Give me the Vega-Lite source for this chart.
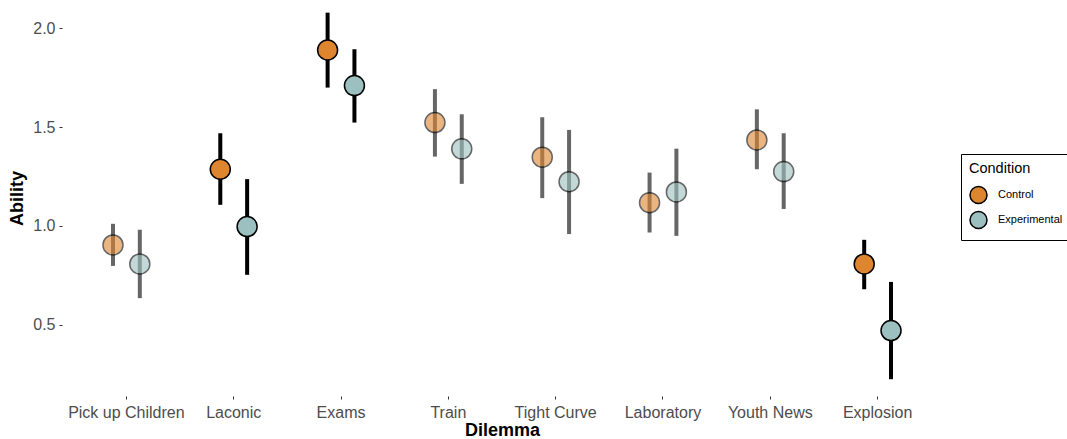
{
  "$schema": "https://vega.github.io/schema/vega-lite/v6.json",
  "width": 880,
  "height": 396,
  "autosize": {"type": "none"},
  "padding": {"left": 62, "top": 0, "right": 125, "bottom": 43},
  "background": "white",
  "config": {"view": {"stroke": null}, "font": "Liberation Sans"},
  "data": {
    "values": [
      {"Dilemma": "Pick up Children", "Condition": "Control", "Ability": 0.904, "Lower": 0.798, "Upper": 1.011},
      {"Dilemma": "Pick up Children", "Condition": "Experimental", "Ability": 0.808, "Lower": 0.635, "Upper": 0.981},
      {"Dilemma": "Laconic", "Condition": "Control", "Ability": 1.287, "Lower": 1.107, "Upper": 1.469},
      {"Dilemma": "Laconic", "Condition": "Experimental", "Ability": 0.997, "Lower": 0.753, "Upper": 1.237},
      {"Dilemma": "Exams", "Condition": "Control", "Ability": 1.890, "Lower": 1.700, "Upper": 2.079},
      {"Dilemma": "Exams", "Condition": "Experimental", "Ability": 1.710, "Lower": 1.523, "Upper": 1.894},
      {"Dilemma": "Train", "Condition": "Control", "Ability": 1.523, "Lower": 1.351, "Upper": 1.692},
      {"Dilemma": "Train", "Condition": "Experimental", "Ability": 1.390, "Lower": 1.213, "Upper": 1.565},
      {"Dilemma": "Tight Curve", "Condition": "Control", "Ability": 1.348, "Lower": 1.141, "Upper": 1.550},
      {"Dilemma": "Tight Curve", "Condition": "Experimental", "Ability": 1.224, "Lower": 0.959, "Upper": 1.486},
      {"Dilemma": "Laboratory", "Condition": "Control", "Ability": 1.118, "Lower": 0.967, "Upper": 1.270},
      {"Dilemma": "Laboratory", "Condition": "Experimental", "Ability": 1.172, "Lower": 0.950, "Upper": 1.391},
      {"Dilemma": "Youth News", "Condition": "Control", "Ability": 1.435, "Lower": 1.287, "Upper": 1.590},
      {"Dilemma": "Youth News", "Condition": "Experimental", "Ability": 1.275, "Lower": 1.086, "Upper": 1.469},
      {"Dilemma": "Explosion", "Condition": "Control", "Ability": 0.808, "Lower": 0.680, "Upper": 0.930},
      {"Dilemma": "Explosion", "Condition": "Experimental", "Ability": 0.471, "Lower": 0.225, "Upper": 0.717}
    ]
  },
  "encoding": {
    "x": {
      "field": "Dilemma",
      "type": "nominal",
      "sort": ["Pick up Children", "Laconic", "Exams", "Train", "Tight Curve", "Laboratory", "Youth News", "Explosion"],
      "scale": {"type": "band", "paddingInner": 0, "paddingOuter": 0.1},
      "axis": {
        "title": "Dilemma",
        "titleFontSize": 18,
        "titleFontWeight": "bold",
        "titleColor": "black",
        "titlePadding": 1,
        "labelFontSize": 16,
        "labelColor": "#4D4D4D",
        "labelAngle": 0,
        "labelPadding": 5,
        "tickSize": 3,
        "tickColor": "#333333",
        "domain": false,
        "grid": false
      }
    },
    "xOffset": {
      "field": "Condition",
      "type": "nominal",
      "scale": {"paddingInner": 0, "paddingOuter": 1}
    }
  },
  "layer": [
    {
      "mark": {"type": "rule", "strokeWidth": 4, "color": "black"},
      "encoding": {
        "y": {
          "field": "Lower",
          "type": "quantitative",
          "scale": {"domain": [0.14, 2.143], "nice": false, "zero": false},
          "axis": {
            "title": "Ability",
            "titleFontSize": 18,
            "titleFontWeight": "bold",
            "titleColor": "black",
            "titlePadding": 6,
            "values": [0.5, 1.0, 1.5, 2.0],
            "format": ".1f",
            "labelFontSize": 16,
            "labelColor": "#4D4D4D",
            "labelPadding": 4,
            "tickSize": 3,
            "tickColor": "#333333",
            "domain": false,
            "grid": false
          }
        },
        "y2": {"field": "Upper"},
        "opacity": {
          "condition": {"test": "indexof(['Laconic','Exams','Explosion'], datum.Dilemma) >= 0", "value": 1},
          "value": 0.6
        }
      }
    },
    {
      "mark": {"type": "point", "shape": "circle", "filled": true, "size": 400, "stroke": "black", "strokeWidth": 1.5},
      "encoding": {
        "y": {"field": "Ability", "type": "quantitative", "title": "Ability"},
        "fill": {
          "field": "Condition",
          "type": "nominal",
          "scale": {"domain": ["Control", "Experimental"], "range": ["#DE8530", "#9CC0BF"]},
          "legend": {
            "orient": "none",
            "legendX": 899,
            "legendY": 154,
            "title": "Condition",
            "titleFontSize": 14.5,
            "titleFontWeight": "normal",
            "titleColor": "black",
            "titlePadding": 9,
            "labelFontSize": 11,
            "labelColor": "black",
            "labelOffset": 10,
            "symbolType": "circle",
            "symbolSize": 289,
            "symbolStrokeColor": "black",
            "symbolStrokeWidth": 1.5,
            "symbolOpacity": 1,
            "rowPadding": 2,
            "strokeColor": "black",
            "padding": 8
          }
        },
        "opacity": {
          "condition": {"test": "indexof(['Laconic','Exams','Explosion'], datum.Dilemma) >= 0", "value": 1},
          "value": 0.6
        }
      }
    }
  ]
}
